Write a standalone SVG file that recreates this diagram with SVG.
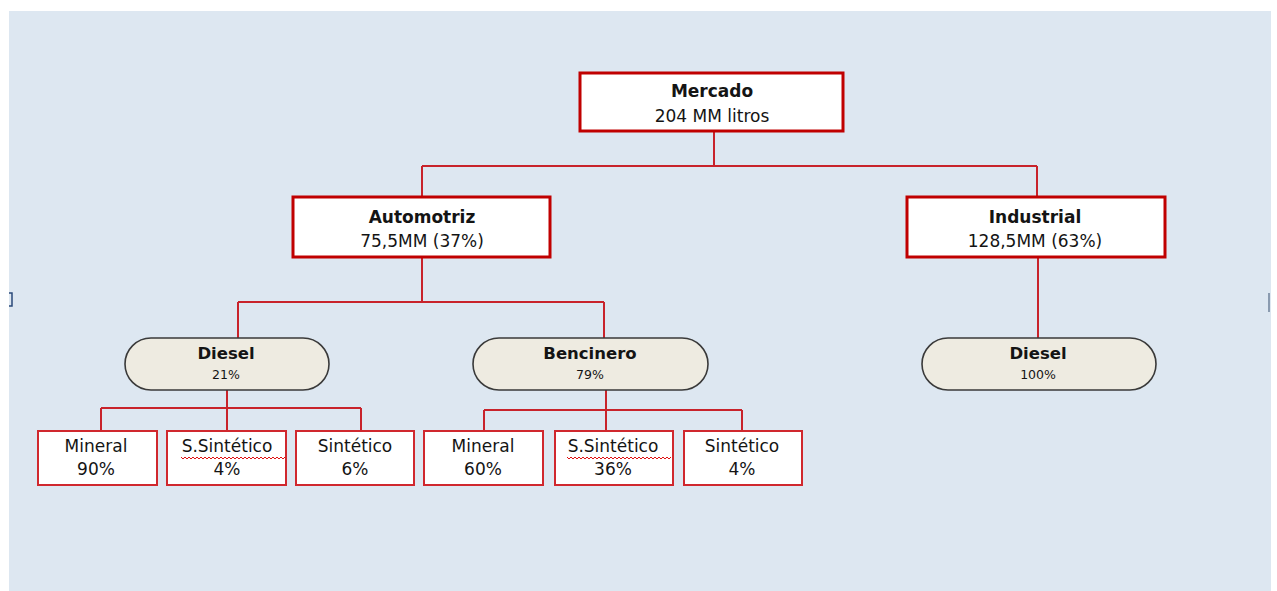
<svg xmlns="http://www.w3.org/2000/svg" width="1277" height="591" viewBox="0 0 1277 591">
<style>
.bg{fill:#dde7f1}
.main{fill:#fff;stroke:#c00000;stroke-width:3}
.leaf{fill:#fff;stroke:#d0282e;stroke-width:2}
.pill{fill:#eeebe1;stroke:#3a3a3a;stroke-width:1.6}
.con{fill:none;stroke:#c8232b;stroke-width:2}
text{font-family:"DejaVu Sans","Liberation Sans",Arial,sans-serif;fill:#141414;text-anchor:middle}
.b{font-weight:bold;font-size:17px}
.n{font-size:17px}
.pb{font-weight:bold;font-size:16.5px}
.ps{font-size:12.5px}
.l{font-size:17px}
.wave{fill:none;stroke:#e01010;stroke-width:1}
</style>
<rect x="0" y="0" width="1277" height="591" fill="#fff"/>
<rect class="bg" x="9" y="11" width="1262" height="580"/>
<path d="M9 293 H12 V306 H9" fill="none" stroke="#2a4a7a" stroke-width="1.5"/>
<rect x="1268" y="293" width="2" height="19" fill="#8a9bb0"/>
<g id="connectors">
<path class="con" d="M714 131 V166 M422 166 H1037 M422 166 V197 M1037 166 V197"/>
<path class="con" d="M422 257 V302 M238 302 H604 M238 302 V338 M604 302 V338"/>
<path class="con" d="M1038 257 V338"/>
<path class="con" d="M227 390 V431 M101 408 H361 M101 408 V431 M361 408 V431"/>
<path class="con" d="M606 390 V431 M484 410 H742 M484 410 V431 M742 410 V431"/>
</g>
<g id="mercado">
<rect class="main" x="580" y="73" width="263" height="58"/>
<text class="b" x="712" y="97">Mercado</text>
<text class="n" x="712" y="122">204 MM litros</text>
</g>
<g id="automotriz">
<rect class="main" x="293" y="197" width="257" height="60"/>
<text class="b" x="422" y="223">Automotriz</text>
<text class="n" x="422" y="247">75,5MM (37%)</text>
</g>
<g id="industrial">
<rect class="main" x="907" y="197" width="258" height="60"/>
<text class="b" x="1035" y="223">Industrial</text>
<text class="n" x="1035" y="247">128,5MM (63%)</text>
</g>
<g id="diesel-auto">
<rect class="pill" x="125" y="338" width="204" height="52" rx="26"/>
<text class="pb" x="226" y="359">Diesel</text>
<text class="ps" x="226" y="379">21%</text>
</g>
<g id="bencinero">
<rect class="pill" x="473" y="338" width="235" height="52" rx="26"/>
<text class="pb" x="590" y="359">Bencinero</text>
<text class="ps" x="590" y="379">79%</text>
</g>
<g id="diesel-ind">
<rect class="pill" x="922" y="338" width="234" height="52" rx="26"/>
<text class="pb" x="1038" y="359">Diesel</text>
<text class="ps" x="1038" y="379">100%</text>
</g>
<g id="d-mineral">
<rect class="leaf" x="38" y="431" width="119" height="54"/>
<text class="l" x="96" y="452">Mineral</text>
<text class="l" x="96" y="475">90%</text>
</g>
<g id="d-ssintetico">
<rect class="leaf" x="167" y="431" width="119" height="54"/>
<text class="l" x="227" y="452">S.Sintético</text>
<path class="wave" d="M181 457 l2 2 l2 -2 l2 2 l2 -2 l2 2 l2 -2 l2 2 l2 -2 l2 2 l2 -2 l2 2 l2 -2 l2 2 l2 -2 l2 2 l2 -2 l2 2 l2 -2 l2 2 l2 -2 l2 2 l2 -2 l2 2 l2 -2 l2 2 l2 -2 l2 2 l2 -2 l2 2 l2 -2 l2 2 l2 -2 l2 2 l2 -2 l2 2 l2 -2 l2 2 l2 -2 l2 2 l2 -2 l2 2 l2 -2 l2 2 l2 -2 l2 2 l2 -2 l2 2 l2 -2 l2 2 l2 -2 l2 2 l2 -2"/>
<text class="l" x="227" y="475">4%</text>
</g>
<g id="d-sintetico">
<rect class="leaf" x="296" y="431" width="118" height="54"/>
<text class="l" x="355" y="452">Sintético</text>
<text class="l" x="355" y="475">6%</text>
</g>
<g id="b-mineral">
<rect class="leaf" x="424" y="431" width="119" height="54"/>
<text class="l" x="483" y="452">Mineral</text>
<text class="l" x="483" y="475">60%</text>
</g>
<g id="b-ssintetico">
<rect class="leaf" x="555" y="431" width="118" height="54"/>
<text class="l" x="613" y="452">S.Sintético</text>
<path class="wave" d="M567 457 l2 2 l2 -2 l2 2 l2 -2 l2 2 l2 -2 l2 2 l2 -2 l2 2 l2 -2 l2 2 l2 -2 l2 2 l2 -2 l2 2 l2 -2 l2 2 l2 -2 l2 2 l2 -2 l2 2 l2 -2 l2 2 l2 -2 l2 2 l2 -2 l2 2 l2 -2 l2 2 l2 -2 l2 2 l2 -2 l2 2 l2 -2 l2 2 l2 -2 l2 2 l2 -2 l2 2 l2 -2 l2 2 l2 -2 l2 2 l2 -2 l2 2 l2 -2 l2 2 l2 -2 l2 2 l2 -2 l2 2 l2 -2"/>
<text class="l" x="613" y="475">36%</text>
</g>
<g id="b-sintetico">
<rect class="leaf" x="684" y="431" width="118" height="54"/>
<text class="l" x="742" y="452">Sintético</text>
<text class="l" x="742" y="475">4%</text>
</g>
</svg>
